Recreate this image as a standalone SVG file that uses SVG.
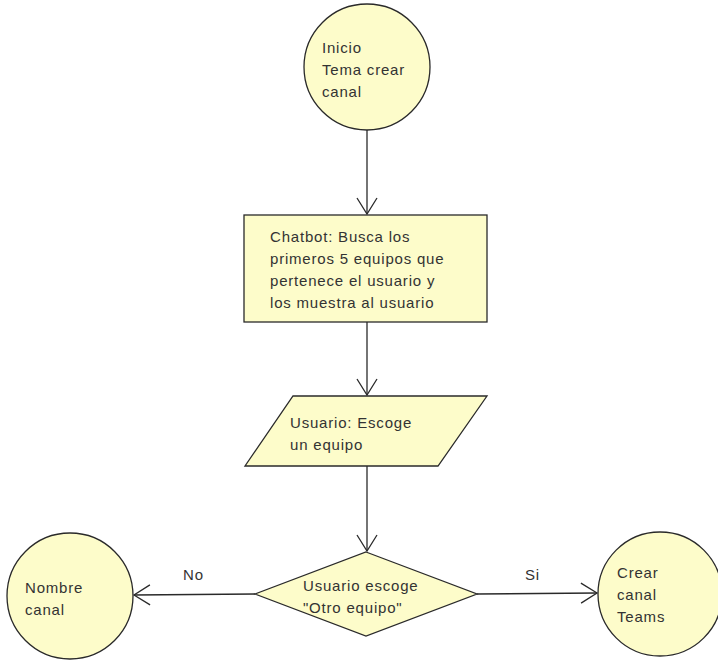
<svg xmlns="http://www.w3.org/2000/svg" width="718" height="661" viewBox="0 0 718 661">
  <style>
    .shape { fill: #fdfcca; stroke: #2a2a2a; stroke-width: 1.3; }
    .lbl { font-family: "Liberation Sans", Arial, sans-serif; font-size: 15px; letter-spacing: 0.8px; fill: #333333; }
    .edge { fill: none; stroke: #2a2a2a; stroke-width: 1.3; }
  </style>
  <defs>
    <marker id="open" viewBox="-17 -11 19 22" refX="0" refY="0" markerWidth="19" markerHeight="22" markerUnits="userSpaceOnUse" orient="auto">
      <path d="M-16,-10 L0,0 L-16,10" fill="none" stroke="#2a2a2a" stroke-width="1.3"/>
    </marker>
  </defs>
  <rect width="718" height="661" fill="#ffffff"/>

  <g id="connectors">
    <line class="edge" x1="367" y1="130" x2="367" y2="214" marker-end="url(#open)"/>
    <line class="edge" x1="367" y1="322" x2="367" y2="395" marker-end="url(#open)"/>
    <line class="edge" x1="367" y1="466" x2="367" y2="551" marker-end="url(#open)"/>
    <line class="edge" x1="255" y1="594" x2="134" y2="595" marker-end="url(#open)"/>
    <line class="edge" x1="477" y1="594" x2="597" y2="593" marker-end="url(#open)"/>
    <text class="lbl" x="183" y="580">No</text>
    <text class="lbl" x="525" y="580">Si</text>
  </g>

  <g id="inicio">
    <circle class="shape" cx="367" cy="67" r="63"/>
    <text class="lbl" x="322" y="53">Inicio</text>
    <text class="lbl" x="322" y="75">Tema crear</text>
    <text class="lbl" x="322" y="97">canal</text>
  </g>

  <g id="chatbot">
    <rect class="shape" x="244" y="215" width="243" height="107"/>
    <text class="lbl" x="270" y="242">Chatbot: Busca los</text>
    <text class="lbl" x="270" y="264">primeros 5 equipos que</text>
    <text class="lbl" x="270" y="286">pertenece el usuario y</text>
    <text class="lbl" x="270" y="308">los muestra al usuario</text>
  </g>

  <g id="escoge">
    <polygon class="shape" points="293,396 487,396 438,466 245,466"/>
    <text class="lbl" x="290" y="428">Usuario: Escoge</text>
    <text class="lbl" x="290" y="450">un equipo</text>
  </g>

  <g id="decision">
    <polygon class="shape" points="366,552 477,594 366,636 255,594"/>
    <text class="lbl" x="303" y="591">Usuario escoge</text>
    <text class="lbl" x="303" y="613">"Otro equipo"</text>
  </g>

  <g id="nombre">
    <circle class="shape" cx="70" cy="596" r="63"/>
    <text class="lbl" x="25" y="593">Nombre</text>
    <text class="lbl" x="25" y="615">canal</text>
  </g>

  <g id="crear">
    <circle class="shape" cx="660" cy="594" r="62"/>
    <text class="lbl" x="617" y="578">Crear</text>
    <text class="lbl" x="617" y="600">canal</text>
    <text class="lbl" x="617" y="622">Teams</text>
  </g>
</svg>
